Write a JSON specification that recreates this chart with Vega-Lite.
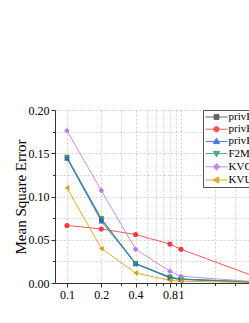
{
  "$schema": "https://vega.github.io/schema/vega-lite/v6.json",
  "width": 194,
  "height": 173,
  "autosize": {"type": "none"},
  "padding": {"left": 55, "top": 110, "right": 0, "bottom": 40},
  "background": "white",
  "config": {
    "view": {"stroke": null},
    "font": "Liberation Serif",
    "axis": {"labelFont": "Liberation Serif", "titleFont": "Liberation Serif", "labelColor": "#000", "titleColor": "#000", "domainColor": "#333", "tickColor": "#333"},
    "legend": {"labelFont": "Liberation Serif"},
    "text": {"font": "Liberation Serif"}
  },
  "data": {
    "values": [
      {"series": "privKV", "x": 0.1, "y": 0.145},
      {"series": "privKV", "x": 0.2, "y": 0.074},
      {"series": "privKV", "x": 0.4, "y": 0.0225},
      {"series": "privKV", "x": 0.8, "y": 0.0065},
      {"series": "privKV", "x": 1, "y": 0.0045},
      {"series": "privKV", "x": 5, "y": 0.0008},
      {"series": "privKVM", "x": 0.1, "y": 0.0665},
      {"series": "privKVM", "x": 0.2, "y": 0.0625},
      {"series": "privKVM", "x": 0.4, "y": 0.056},
      {"series": "privKVM", "x": 0.8, "y": 0.045},
      {"series": "privKVM", "x": 1, "y": 0.039},
      {"series": "privKVM", "x": 5, "y": 0.005},
      {"series": "privKVM*", "x": 0.1, "y": 0.144},
      {"series": "privKVM*", "x": 0.2, "y": 0.0715},
      {"series": "privKVM*", "x": 0.4, "y": 0.022},
      {"series": "privKVM*", "x": 0.8, "y": 0.0058},
      {"series": "privKVM*", "x": 1, "y": 0.004},
      {"series": "privKVM*", "x": 5, "y": 0.0008},
      {"series": "F2M", "x": 0.1, "y": 0.1455},
      {"series": "F2M", "x": 0.2, "y": 0.0745},
      {"series": "F2M", "x": 0.4, "y": 0.0225},
      {"series": "F2M", "x": 0.8, "y": 0.007},
      {"series": "F2M", "x": 1, "y": 0.0046},
      {"series": "F2M", "x": 5, "y": 0.0009},
      {"series": "KVOH", "x": 0.1, "y": 0.176},
      {"series": "KVOH", "x": 0.2, "y": 0.107},
      {"series": "KVOH", "x": 0.4, "y": 0.039},
      {"series": "KVOH", "x": 0.8, "y": 0.0135},
      {"series": "KVOH", "x": 1, "y": 0.0078},
      {"series": "KVOH", "x": 5, "y": 0.001},
      {"series": "KVUE", "x": 0.1, "y": 0.11},
      {"series": "KVUE", "x": 0.2, "y": 0.04},
      {"series": "KVUE", "x": 0.4, "y": 0.0116},
      {"series": "KVUE", "x": 0.8, "y": 0.003},
      {"series": "KVUE", "x": 1, "y": 0.002},
      {"series": "KVUE", "x": 5, "y": 0.0005}
    ]
  },
  "encoding": {
    "x": {
      "field": "x", "type": "quantitative",
      "scale": {"type": "log", "domain": [0.0785, 3.95]},
      "axis": {
        "title": null,
        "values": [0.1, 0.2, 0.3, 0.4, 0.5, 0.6, 0.7, 0.8, 0.9, 1, 2, 3],
        "labelExpr": "indexof([0.1, 0.2, 0.4, 0.8, 1], datum.value) >= 0 ? format(datum.value, '~g') : ''",
        "tickSize": {"condition": {"test": "indexof([0.1, 0.2, 0.4, 0.8, 1], datum.value) >= 0", "value": 4}, "value": 2.5},
        "labelOverlap": false, "labelFlush": false, "labelBound": false,
        "labelFontSize": 12, "labelPadding": 2, "labelFont": "Liberation Serif",
        "grid": true, "gridDash": [2, 2], "gridColor": "#c4c4c4", "gridWidth": 0.8
      }
    },
    "y": {
      "field": "y", "type": "quantitative",
      "scale": {"domain": [0, 0.2]},
      "axis": {
        "title": "Mean Square Error", "titleFont": "Liberation Serif",
        "titleFontSize": 15, "titleFontWeight": "normal", "titlePadding": 0,
        "values": [0, 0.025, 0.05, 0.075, 0.1, 0.125, 0.15, 0.175, 0.2],
        "labelExpr": "round(datum.value * 1000) % 50 == 0 ? format(datum.value, '.2f') : ''",
        "tickSize": {"condition": {"test": "round(datum.value * 1000) % 50 == 0", "value": 4}, "value": 2.5},
        "labelOverlap": false, "labelFlush": false,
        "labelFontSize": 12, "labelPadding": 2, "labelFont": "Liberation Serif",
        "grid": true, "gridDash": [2, 2], "gridColor": "#c4c4c4", "gridWidth": 0.8
      }
    }
  },
  "layer": [
    {
      "mark": {"type": "line", "clip": true, "strokeWidth": 1, "opacity": 0.85},
      "encoding": {
        "color": {
          "field": "series", "type": "nominal",
          "scale": {"domain": ["privKV", "privKVM", "privKVM*", "F2M", "KVOH", "KVUE"], "range": ["#4a4a4a", "#f03c3c", "#2563e6", "#2a9d6e", "#b47ee8", "#d4a000"]}
        }
      }
    },
    {"transform": [{"filter": "datum.series === 'privKV'"}], "mark": {"type": "point", "filled": true, "opacity": 1, "shape": "square", "size": 22, "color": "#4a4a4a", "clip": true}},
    {"transform": [{"filter": "datum.series === 'privKVM'"}], "mark": {"type": "point", "filled": true, "opacity": 1, "shape": "circle", "size": 26, "color": "#f03c3c", "clip": true}},
    {"transform": [{"filter": "datum.series === 'privKVM*'"}], "mark": {"type": "point", "filled": true, "opacity": 1, "shape": "triangle-up", "size": 30, "color": "#2563e6", "clip": true}},
    {"transform": [{"filter": "datum.series === 'F2M'"}], "mark": {"type": "point", "filled": true, "opacity": 1, "shape": "triangle-down", "size": 30, "color": "#2a9d6e", "clip": true}},
    {"transform": [{"filter": "datum.series === 'KVOH'"}], "mark": {"type": "point", "filled": true, "opacity": 1, "shape": "diamond", "size": 32, "color": "#b47ee8", "clip": true}},
    {"transform": [{"filter": "datum.series === 'KVUE'"}], "mark": {"type": "point", "filled": true, "opacity": 1, "shape": "triangle-left", "size": 30, "color": "#d4a000", "clip": true}},
    {
      "mark": {"type": "point", "filled": false, "opacity": 0, "clip": true},
      "encoding": {
        "color": {
          "field": "series", "type": "nominal",
          "scale": {"domain": ["privKV", "privKVM", "privKVM*", "F2M", "KVOH", "KVUE"], "range": ["#4a4a4a", "#f03c3c", "#2563e6", "#2a9d6e", "#b47ee8", "#d4a000"]},
          "legend": {
            "orient": "none", "legendX": 148, "legendY": 0, "title": null,
            "symbolSize": 121, "symbolStrokeWidth": 1, "symbolOpacity": 1,
            "labelFont": "Liberation Serif", "labelFontSize": 11, "labelColor": "#000",
            "labelOffset": 6, "symbolOffset": 6.5, "padding": 1, "rowPadding": 1.2,
            "fillColor": "#ffffff", "strokeColor": "#555555"
          }
        },
        "fill": {
          "field": "series", "type": "nominal",
          "scale": {"domain": ["privKV", "privKVM", "privKVM*", "F2M", "KVOH", "KVUE"], "range": ["#4a4a4a", "#f03c3c", "#2563e6", "#2a9d6e", "#b47ee8", "#d4a000"]}
        },
        "shape": {
          "field": "series", "type": "nominal",
          "scale": {
            "domain": ["privKV", "privKVM", "privKVM*", "F2M", "KVOH", "KVUE"],
            "range": [
              "M-2,0H2M-0.44,-0.44H0.44V0.44H-0.44Z",
              "M-2,0H2M0.5,0A0.5,0.5,0,1,1,-0.5,0A0.5,0.5,0,1,1,0.5,0Z",
              "M-2,0H2M0,-0.6L0.56,0.4H-0.56Z",
              "M-2,0H2M0,0.6L0.56,-0.4H-0.56Z",
              "M-2,0H2M0,-0.6L0.6,0L0,0.6L-0.6,0Z",
              "M-2,0H2M-0.6,0L0.4,-0.56V0.56Z"
            ]
          }
        }
      }
    }
  ]
}
